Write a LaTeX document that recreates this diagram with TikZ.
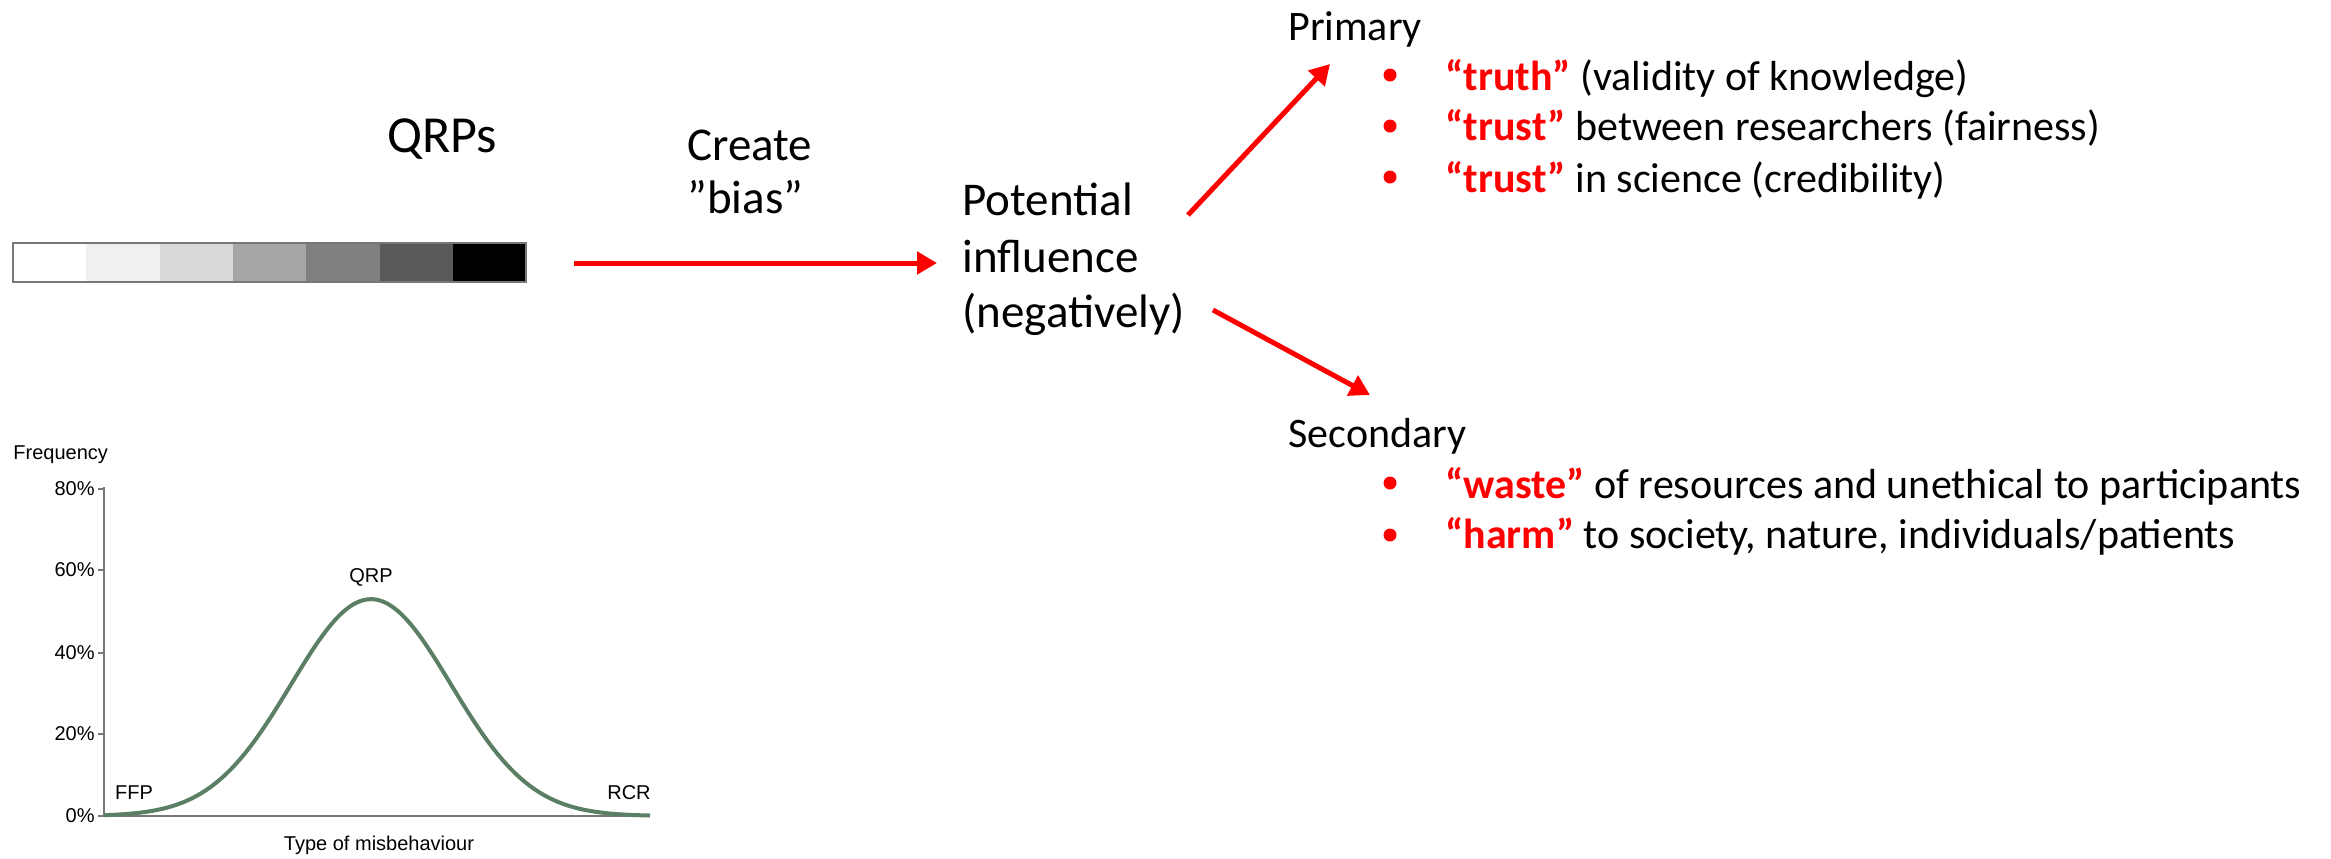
\documentclass[tikz,border=0pt]{standalone}
\usepackage{fontspec}
\setmainfont{Carlito}
\newfontfamily\chartfont{Liberation Sans}
\usetikzlibrary{arrows.meta}
\definecolor{qred}{RGB}{255,0,0}
\definecolor{qgreen}{RGB}{91,127,101}
\definecolor{axgray}{RGB}{120,120,120}
\definecolor{g1}{RGB}{255,255,255}
\definecolor{g2}{RGB}{240,240,240}
\definecolor{g3}{RGB}{217,217,217}
\definecolor{g4}{RGB}{166,166,166}
\definecolor{g5}{RGB}{128,128,128}
\definecolor{g6}{RGB}{89,89,89}
\definecolor{g7}{RGB}{0,0,0}
\newcommand\kw[1]{\textcolor{qred}{\bfseries “#1”}}
\begin{document}
\begin{tikzpicture}[x=0.5pt,y=-0.5pt,
  big/.style={font=\fontsize{23.5}{28}\selectfont, inner sep=0pt, anchor=base west},
  med/.style={font=\fontsize{21}{25}\selectfont, inner sep=0pt, anchor=base west},
  ctext/.style={font=\chartfont\fontsize{10}{12}\selectfont, inner sep=0pt},
  redarrow/.style={draw=qred, line width=2.5pt, -{Triangle[length=10pt,width=11pt]}},
  bul/.style={circle, fill=qred, inner sep=0pt, minimum size=6.5pt},
  axisline/.style={draw=axgray, line width=1pt},
  curve/.style={draw=qgreen, line width=2pt}
]
\useasboundingbox (0,0) rectangle (2331,858);
\fill[white] (0,0) rectangle (2331,858);

% QRPs label and grey bar
\node[font=\fontsize{26}{30}\selectfont, inner sep=0pt, anchor=base] (qrps) at (442,152) {QRPs};
\foreach \c [count=\i from 0] in {g1,g2,g3,g4,g5,g6,g7}{
  \fill[\c] ({13+73.3*\i},243) rectangle ({13+73.3*(\i+1)},282);
}
\draw[axgray, line width=0.7pt] (13,243) rectangle (526,282);
\coordinate (barout) at (574,263);

% middle
\node[big] (create) at (687,160) {Create};
\node[big] (bias) at (687,213) {”bias”};
\node[big] (pot1) at (962,215) {Potential};
\node[big] (pot2) at (962,272) {influence};
\node[big] (pot3) at (962,327) {(negatively)};
\coordinate (potin) at (937,263);
\draw[redarrow] (barout) -- (potin);

% arrows to primary / secondary
\coordinate (upstart) at (1188,215);
\coordinate (uptip) at (1330,64);
\coordinate (dnstart) at (1213,310);
\coordinate (dntip) at (1370,395);
\draw[redarrow] (upstart) -- (uptip);
\draw[redarrow] (dnstart) -- (dntip);

% Primary
\node[med] (prim) at (1288,40) {Primary};
\node[bul] (pb1) at (1390,75) {};
\node[bul] (pb2) at (1390,126) {};
\node[bul] (pb3) at (1390,177) {};
\node[med] (pt1) at (1445,90) {\kw{truth} (validity of knowledge)};
\node[med] (pt2) at (1445,140) {\kw{trust} between researchers (fairness)};
\node[med] (pt3) at (1445,192) {\kw{trust} in science (credibility)};

% Secondary
\node[med] (sec) at (1288,447) {Secondary};
\node[bul] (sb1) at (1390,483) {};
\node[bul] (sb2) at (1390,535) {};
\node[med] (st1) at (1445,498) {\kw{waste} of resources and unethical to participants};
\node[med] (st2) at (1445,548) {\kw{harm} to society, nature, individuals/patients};

% chart
\node[ctext, anchor=base west] (freq) at (13,459) {Frequency};
\draw[axisline] (104,487) -- (104,816) -- (650,816);
\foreach \v/\yy in {80/489,60/570,40/653,20/734,0/816}{
  \draw[axisline] (98,\yy) -- (104,\yy);
  \node[ctext, anchor=east] (tick\v) at (95,\yy) {\v\%};
}
\draw[curve] plot[domain=104:650, samples=220, smooth] (\x, {816 - 216.8*exp(-0.5*((\x-371)/80)^2)});
\node[ctext] (qrplab) at (371,577) {QRP};
\node[ctext] (ffp) at (134,793) {FFP};
\node[ctext] (rcr) at (629,793) {RCR};
\node[ctext] (xlab) at (379,845) {Type of misbehaviour};
\end{tikzpicture}
\end{document}
